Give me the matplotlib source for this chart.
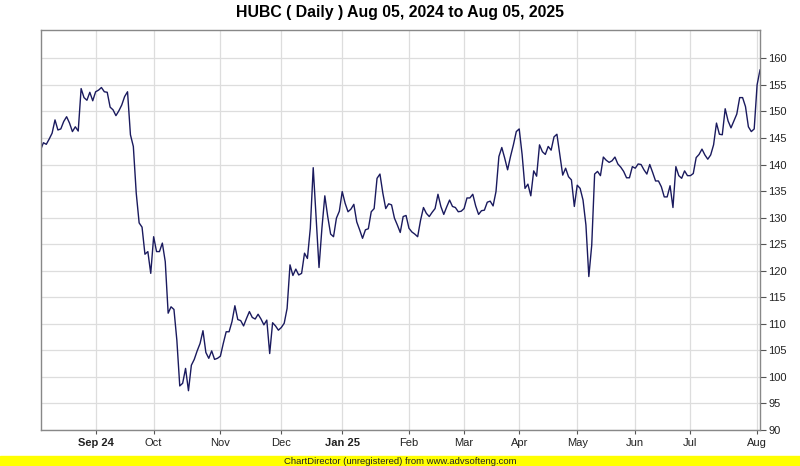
import numpy as np
import pandas as pd
import matplotlib
matplotlib.use("Agg")
import matplotlib.pyplot as plt

# daily closing prices (one value per trading day)
close = [
    142.7, 144.1, 143.8, 144.8, 145.9, 148.4, 146.5, 146.7, 148.1, 149.0,
    147.8, 146.2, 147.1, 146.3, 154.3, 152.6, 152.1, 153.6, 152.0, 153.7,
    154.0, 154.5, 153.7, 153.6, 150.8, 150.3, 149.2, 150.1, 151.2, 152.8,
    153.7, 145.6, 143.4, 134.6, 129.0, 128.2, 123.1, 123.6, 119.5, 126.4,
    123.6, 123.6, 125.2, 121.7, 112.0, 113.2, 112.7, 106.9, 98.3, 98.8,
    101.6, 97.4, 102.2, 103.3, 104.9, 106.3, 108.7, 104.6, 103.5, 104.9,
    103.3, 103.5, 103.9, 106.3, 108.5, 108.5, 110.4, 113.4, 110.8, 110.6,
    109.6, 111.0, 112.3, 111.2, 110.9, 111.8, 110.9, 109.8, 110.7, 104.4,
    110.2, 109.6, 108.8, 109.3, 110.1, 112.9, 121.1, 119.1, 120.3, 119.2,
    119.5, 123.3, 122.3, 128.0, 139.4, 130.0, 120.6, 128.0, 134.1, 130.2,
    126.9, 126.4, 129.9, 131.2, 134.9, 132.7, 131.1, 131.6, 132.5, 129.2,
    127.7, 126.1, 127.7, 127.9, 131.1, 131.7, 137.4, 138.2, 134.6, 131.7,
    132.6, 132.4, 129.9, 128.6, 127.2, 130.2, 130.4, 128.0, 127.3, 126.9,
    126.4, 129.5, 131.9, 130.8, 130.2, 131.0, 131.7, 134.4, 132.1, 130.6,
    132.0, 133.3, 132.1, 131.9, 131.1, 131.2, 131.7, 133.7, 133.7, 134.4,
    132.2, 130.6, 131.3, 131.4, 132.9, 133.1, 132.2, 134.9, 141.5, 143.2,
    141.2, 139.0, 141.5, 143.7, 146.2, 146.7, 141.9, 135.5, 136.3, 134.1,
    138.8, 137.8, 143.7, 142.4, 141.9, 143.4, 142.7, 145.2, 145.7, 141.9,
    138.0, 139.3, 137.7, 137.1, 132.1, 136.1, 135.5, 133.3, 128.6, 118.9,
    124.8, 138.2, 138.7, 137.9, 141.4, 140.8, 140.4, 140.7, 141.4, 140.1,
    139.5, 138.7, 137.5, 137.5, 139.6, 139.3, 140.1, 140.0, 139.0, 138.2,
    140.0, 138.5, 136.9, 136.9, 135.8, 133.9, 133.9, 136.0, 131.9, 139.6,
    137.9, 137.4, 138.8, 137.9, 137.9, 138.3, 141.3, 141.9, 142.9, 141.8,
    141.0, 141.8, 143.7, 147.8, 145.7, 145.6, 150.5, 148.2, 146.9, 148.2,
    149.5, 152.6, 152.6, 150.9, 147.1, 146.2, 146.7, 155.0, 157.8,
]

# market holidays (days with no data)
holidays = ["2024-08-14", "2024-09-17", "2024-12-25", "2025-02-05",
            "2025-03-28", "2025-03-31", "2025-04-01", "2025-04-02",
            "2025-05-01", "2025-05-28", "2025-06-06", "2025-06-09"]

month_labels = ["Sep 24", "Oct", "Nov", "Dec", "Jan 25", "Feb", "Mar",
                "Apr", "May", "Jun", "Jul", "Aug"]
y_ticks = list(range(90, 165, 5))

days = pd.bdate_range("2024-08-05", "2025-08-04")
days = days[~days.isin(pd.to_datetime(holidays))][:len(close)]
x = np.arange(len(close))

# first trading day of each month -> tick position
first = pd.Series(x, index=days).groupby(days.to_period("M")).min().values[1:]

W, H = 800, 466
fig = plt.figure(figsize=(W / 100, H / 100), dpi=100)
ax = fig.add_axes([40.5 / W, (H - 430) / H, 719.5 / W, 400 / H])

ax.plot(x, close, color="#1a1a5e", linewidth=1.0)

ax.set_xlim(0, len(close) - 1)
ax.set_ylim(90, 165.33)
ax.set_yticks(y_ticks)
ax.set_xticks(first)
ax.set_xticklabels(month_labels[:len(first)])
for lab in ax.get_xticklabels():
    if " " in lab.get_text():
        lab.set_fontweight("bold")

ax.yaxis.tick_right()
ax.tick_params(axis="y", direction="out", length=4, width=0.8, color="#555555",
               labelsize=8, labelcolor="#222222", pad=2)
ax.tick_params(axis="x", direction="out", length=3, width=0.8, color="#555555",
               labelsize=8, labelcolor="#222222", pad=3)
for lab in ax.get_xticklabels() + ax.get_yticklabels():
    lab.set_family("Liberation Sans")

ax.grid(True, color="#dddddd", linewidth=0.9)
ax.set_axisbelow(True)
for s in ax.spines.values():
    s.set_color("#888888")
    s.set_linewidth(1.0)

fig.text(0.5, 1 - 12 / H, "HUBC ( Daily ) Aug 05, 2024 to Aug 05, 2025",
         ha="center", va="center", fontsize=11.4, fontweight="bold",
         family="Liberation Sans")

# yellow ChartDirector banner at the bottom
fig.patches.append(plt.Rectangle((0, 0), 1, 10 / H, transform=fig.transFigure,
                                 color="#ffff00", zorder=0))
fig.text(0.5, 5 / H, "ChartDirector (unregistered) from www.advsofteng.com",
         ha="center", va="center", fontsize=6.8, color="#222222",
         family=["Liberation Sans Narrow", "Liberation Sans"])

fig.savefig("out.png", dpi=100)
